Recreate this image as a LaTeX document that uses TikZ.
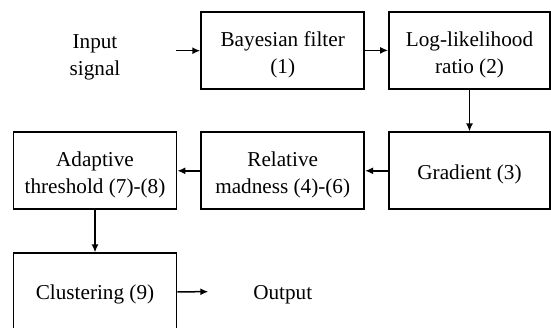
\documentclass[tikz,border=0pt]{standalone}
\usepackage{fontspec}
\setmainfont{Liberation Serif}
\newfontfamily\diagfont{Liberation Serif}
\usetikzlibrary{arrows.meta}
\begin{document}
\begin{tikzpicture}[x=1pt,y=1pt,
  blockbox/.style={draw=black, line width=1.8pt, minimum width=163pt, minimum height=77pt, inner sep=0pt},
  plaintext/.style={align=center, inner sep=0pt, font=\diagfont\fontsize{21.2}{27}\selectfont},
  flow/.style={line width=1.5pt, -{Latex[length=8pt,width=7pt]}}]
\useasboundingbox (0,0) rectangle (551,-327);
\clip (0,0) rectangle (551,-327);
\node[blockbox] (bay) at (282.7,-50.4) {};
\node[blockbox, minimum width=161pt] (llr) at (469.5,-50.4) {};
\node[blockbox, minimum width=161pt] (grad) at (469.5,-170.8) {};
\node[blockbox] (rel) at (282.7,-170.8) {};
\node[blockbox] (adapt) at (95,-170.8) {};
\node[blockbox] (clus) at (95,-291.8) {};
\node[plaintext] (bayT) at ([yshift=-4pt]bay.center) {Bayesian filter\\(1)};
\node[plaintext] (llrT) at ([yshift=-4pt]llr.center) {Log-likelihood\\ratio (2)};
\node[plaintext] (gradT) at ([yshift=-4pt]grad.center) {Gradient (3)};
\node[plaintext] (relT) at ([yshift=-4pt]rel.center) {Relative\\madness (4)-(6)};
\node[plaintext] (adaptT) at ([yshift=-4pt]adapt.center) {Adaptive\\threshold (7)-(8)};
\node[plaintext] (clusT) at ([yshift=-3pt]clus.center) {Clustering (9)};
\node[plaintext] (inp) at (95,-57) {Input\\signal};
\node[plaintext] (outp) at (282.7,-295) {Output};
\coordinate (instart) at (176,-50.7);
\coordinate (outend) at (208.3,-291.7);
\draw[flow] (instart) -- (instart -| bay.west);
\draw[flow] (bay.east) -- (llr.west);
\draw[flow] (llr.south) -- (grad.north);
\draw[flow] (grad.west) -- (rel.east);
\draw[flow] (rel.west) -- (adapt.east);
\draw[flow] (adapt.south) -- (clus.north);
\draw[flow] (clus.east) -- (outend);
\end{tikzpicture}
\end{document}
